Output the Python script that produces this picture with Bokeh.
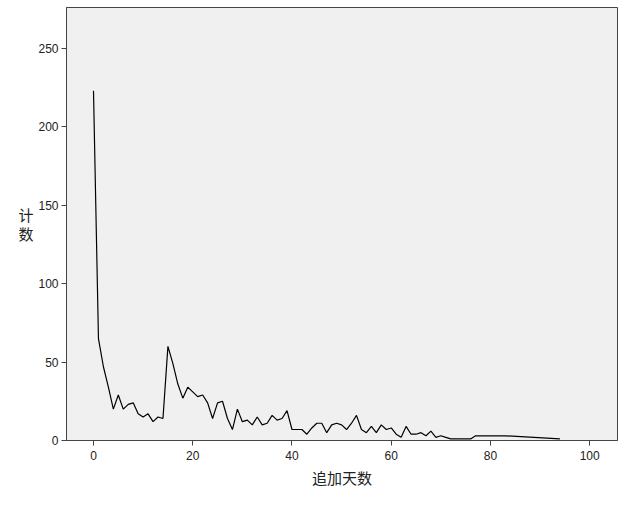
from bokeh.plotting import figure
from bokeh.models import Range1d, FixedTicker
from bokeh.embed import file_html
from bokeh.resources import INLINE

days = [0, 1, 2, 3, 4, 5, 6, 7, 8, 9, 10, 11, 12, 13, 14, 15, 16, 17, 18, 19,
        20, 21, 22, 23, 24, 25, 26, 27, 28, 29, 30, 31, 32, 33, 34, 35, 36, 37, 38, 39,
        40, 41, 42, 43, 44, 45, 46, 47, 48, 49, 50, 51, 52, 53, 54, 55, 56, 57, 58, 59,
        60, 61, 62, 63, 64, 65, 66, 67, 68, 69, 70, 71, 72, 76, 77, 83, 94]
counts = [223, 65, 47, 34, 20, 29, 20, 23, 24, 17, 15, 17, 12, 15, 14, 60, 49, 36, 27, 34,
          31, 28, 29, 24, 14, 24, 25, 14, 7, 20, 12, 13, 10, 15, 10, 11, 16, 13, 14, 19,
          7, 7, 7, 4, 8, 11, 11, 5, 10, 11, 10, 7, 11, 16, 7, 5, 9, 5, 10, 7,
          8, 4, 2, 9, 4, 4, 5, 3, 6, 2, 3, 2, 1, 1, 3, 3, 1]
x_ticks = [0, 20, 40, 60, 80, 100]
y_ticks = [0, 50, 100, 150, 200, 250]

p = figure(width=620, height=500, output_backend="svg", toolbar_location=None,
           x_range=Range1d(-5.44, 105.6), y_range=Range1d(0, 276),
           min_border_left=66, min_border_right=3, min_border_top=7, min_border_bottom=60)
p.background_fill_color = "#f0f0f0"
p.border_fill_color = "white"
p.outline_line_color = "#444444"
p.outline_line_width = 1
p.xgrid.visible = False
p.ygrid.visible = False

p.line(days, counts, line_color="black", line_width=1.2)

for ax in (p.xaxis[0], p.yaxis[0]):
    ax.axis_line_color = "#444444"
    ax.major_tick_line_color = "#444444"
    ax.major_tick_out = 5
    ax.major_tick_in = 0
    ax.minor_tick_line_color = None
    ax.major_label_text_font = "Liberation Sans"
    ax.major_label_text_font_size = "12px"
    ax.major_label_text_color = "#222222"
    ax.axis_label_text_font = "Noto Sans CJK SC"
    ax.axis_label_text_font_size = "15px"
    ax.axis_label_text_font_style = "normal"
    ax.axis_label_text_color = "#222222"

p.xaxis[0].ticker = FixedTicker(ticks=x_ticks)
p.yaxis[0].ticker = FixedTicker(ticks=y_ticks)
p.xaxis[0].axis_label = "追加天数"
p.xaxis[0].axis_label_standoff = 4
p.yaxis[0].axis_label = "计\n数"
p.yaxis[0].axis_label_orientation = "horizontal"
p.yaxis[0].axis_label_text_line_height = 0.9
p.yaxis[0].axis_label_standoff = 2
p.yaxis[0].major_label_standoff = 3

open("out.html", "w").write(file_html(p, INLINE))
